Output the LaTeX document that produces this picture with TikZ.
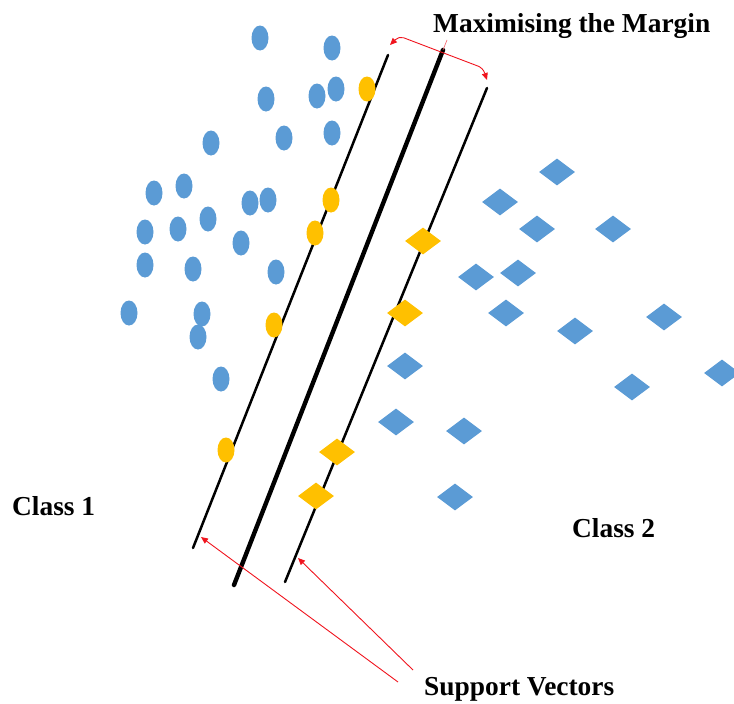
\documentclass[tikz,border=0pt]{standalone}
\usepackage{fontspec}
\setmainfont{Liberation Serif}
\usetikzlibrary{shapes.geometric,arrows.meta}
\definecolor{classblue}{HTML}{5B9BD5}
\definecolor{svyellow}{HTML}{FFC000}
\definecolor{arrowred}{HTML}{F0141E}
\begin{document}
\begin{tikzpicture}[x=1pt,y=-1pt,
  dot/.style={ellipse,inner sep=0pt,minimum width=17pt,minimum height=25pt},
  gem/.style={diamond,inner sep=0pt,minimum width=36pt,minimum height=27pt},
  class one/.style={dot,fill=classblue},
  class two/.style={gem,fill=classblue},
  sv dot/.style={dot,fill=svyellow},
  sv gem/.style={gem,fill=svyellow},
  margin line/.style={line width=2.5pt,line cap=round},
  hyperplane/.style={line width=4.4pt,line cap=round},
  pointer/.style={draw=arrowred,line width=0.9pt,-{Triangle[length=7pt,width=6pt]}},
  title/.style={font=\fontsize{27.4}{31}\selectfont\bfseries,inner sep=0pt,anchor=base west}
]
\useasboundingbox (0,0) rectangle (734,704);

% margin boundaries and the separating hyperplane
\coordinate (lt) at (388,55);  \coordinate (lb) at (193,548);
\coordinate (mt) at (443,50);  \coordinate (mb) at (234,585);
\coordinate (rt) at (487,88);  \coordinate (rb) at (285,582);
\draw[margin line] (lt) -- (lb);
\draw[hyperplane]  (mt) -- (mb);
\draw[margin line] (rt) -- (rb);

% class 1 samples
\foreach \p [count=\i] in {(260,38),(332,48),(266,99),(317,96),(336,89),(332,133),
    (211,143),(284,138),(154,193),(184,186),(250,203),(268,200),(145,232),(178,229),
    (208,219),(241,243),(145,265),(193,269),(276,272),(129,313),(202,314),(198,337),
    (221,379)}
  \node[class one] (a\i) at \p {};

% class 2 samples
\foreach \p [count=\i] in {(557,172),(500,202),(537,229),(613,229),(476,277),(518,273),
    (506,313),(575,331),(664,317),(722,373),(632,387),(405,366),(396,422),(464,431),
    (455,497)}
  \node[class two] (b\i) at \p {};

% support vectors on the margin
\foreach \p [count=\i] in {(367,89),(331,200),(315,233),(274,325),(226,450)}
  \node[sv dot] (sa\i) at \p {};
\foreach \p [count=\i] in {(423,241),(405,313),(337,452),(316,496)}
  \node[sv gem] (sb\i) at \p {};

% labels
\node[title] (mm) at (433,32) {Maximising the Margin};
\node[title] (c1) at (12,515) {Class 1};
\node[title] (c2) at (572,537) {Class 2};
\node[title] (sv) at (424,695) {Support Vectors};

% margin width indicator
\coordinate (ml) at (390,45);
\coordinate (mr) at (487,80);
\draw[draw=arrowred,line width=0.9pt,rounded corners=5pt,
      {Triangle[length=7pt,width=6pt]}-{Triangle[length=7pt,width=6pt]}]
  (ml) -- (399,36) -- (483,68) -- (mr);
\coordinate (tick) at (447,40);
\draw[draw=arrowred!70,line width=0.6pt] (tick) -- (mt);

% pointers to the support vector boundaries
\coordinate (s1) at (398,682);
\coordinate (s2) at (413,670);
\coordinate (tipl) at (201,537);
\coordinate (tipr) at (298,558);
\draw[pointer] (s1) -- (tipl);
\draw[pointer] (s2) -- (tipr);
\end{tikzpicture}
\end{document}
